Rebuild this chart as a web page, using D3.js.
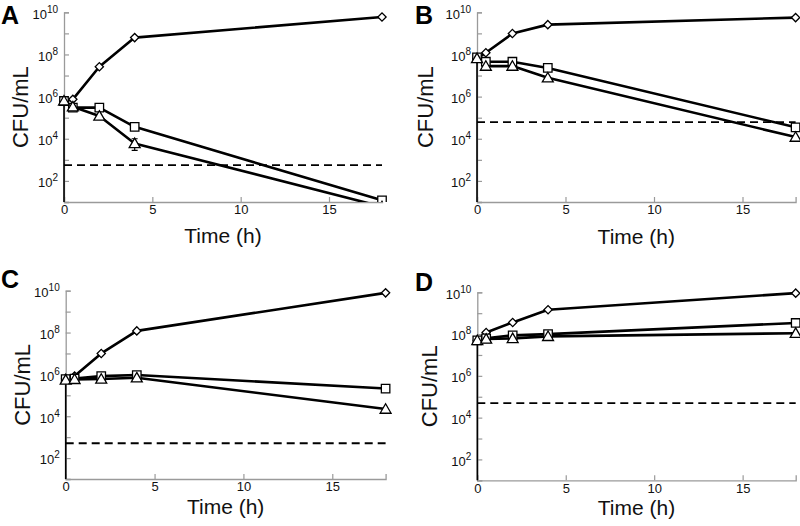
<!DOCTYPE html>
<html><head><meta charset="utf-8">
<script src="https://cdn.jsdelivr.net/npm/d3@7"></script>
<style>body{margin:0;background:#fff}svg{display:block}</style>
</head><body>
<svg id="c" width="800" height="526"></svg>
<script>
// ---- data ----
const times = [0, 0.5, 2, 4, 18];
const panelNames = ["A", "B", "C", "D"];
const xTicks = [0, 5, 10, 15];
const yTickExps = [1,2,3,4,5,6,7,8,9,10];
const yLabelExps = [2,4,6,8,10];

// growth control (diamonds)
const growthA = [6.0e5, 7.4e5, 2.6e7, 6.3e8, 6.0e9];
const growthB = [6.5e7, 1.2e8, 9.8e8, 2.6e9, 5.6e9];
const growthC = [6.5e5, 8.3e5, 1.0e7, 1.2e8, 7.9e9];
const growthD = [5.0e7, 1.2e8, 3.6e8, 1.45e9, 9.1e9];
// squares
const squareA = [6.2e5, 3.0e5, 3.0e5, 3.7e4, 12];
const squareB = [7.2e7, 4.5e7, 4.5e7, 2.3e7, 3.5e4];
const squareC = [6.0e5, 6.3e5, 8.3e5, 9.3e5, 2.1e5];
const squareD = [5.0e7, 6.3e7, 8.7e7, 1.0e8, 3.4e8];
// triangles
const triA = [6.3e5, 3.3e5, 1.2e5, 6.0e3, 6];
const triB = [6.5e7, 2.8e7, 2.8e7, 7.8e6, 1.2e4];
const triC = [5.4e5, 5.8e5, 6.0e5, 6.9e5, 2.2e4];
const triD = [5.0e7, 5.8e7, 6.2e7, 7.8e7, 1.1e8];
// limit of detection (dashed)
const lod = [5.6e2, 6.2e4, 5.1e2, 5.0e4];
// error bars: [panel, series, time index, low, high]
const errorBars = [
  [0, "tri", 0, 4.0e5, 1.0e6],
  [0, "tri", 3, 2.8e3, 1.0e4],
  [1, "square", 0, 5.5e7, 9.5e7],
  [2, "square", 4, 1.5e5, 2.6e5]
];

const growth = [growthA, growthB, growthC, growthD];
const squares = [squareA, squareB, squareC, squareD];
const tris = [triA, triB, triC, triD];

// ---- layout ----
const layout = [
  {x0:64,    x1:382,   yTop:12.3,  yBot:202,   lx:1,   ly:24,  tly:243, cfx:36},
  {x0:477,   x1:795.6, yTop:12.3,  yBot:202,   lx:415, ly:24,  tly:244, cfx:44},
  {x0:65.7,  x1:385.6, yTop:290.7, yBot:479,   lx:1,   ly:288, tly:514, cfx:36},
  {x0:477.3, x1:795.7, yTop:292.3, yBot:480.3, lx:415, ly:291, tly:515, cfx:40}
];

const svg = d3.select("#c");
const AX = "#9a9a9a";
const FONT = "'Liberation Sans', Arial, sans-serif";

panelNames.forEach((name, i) => {
  const L = layout[i];
  const x = d3.scaleLinear().domain([0, 18]).range([L.x0, L.x1]);
  const y = d3.scaleLog().domain([10, 1e10]).range([L.yBot, L.yTop]);
  const g = svg.append("g");

  // clip
  const cid = "clip" + i;
  svg.append("clipPath").attr("id", cid).append("rect")
    .attr("x", L.x0 - 10).attr("y", L.yTop - 12)
    .attr("width", L.x1 - L.x0 + 25).attr("height", L.yBot - L.yTop + 12);

  // y axis
  const yAxis = d3.axisLeft(y).tickValues(yTickExps.map(e => Math.pow(10, e)))
    .tickSize(-5).tickPadding(6).tickFormat(() => "");
  const gy = g.append("g").attr("transform", `translate(${L.x0},0)`).call(yAxis);
  gy.select(".domain").attr("stroke", AX).attr("stroke-width", 1.3);
  gy.selectAll(".tick line").attr("stroke", AX).attr("stroke-width", 1.2);
  gy.selectAll(".tick text").each(function(d) {
    const e = Math.round(Math.log10(d));
    const t = d3.select(this);
    if (!yLabelExps.includes(e)) return;
    t.attr("font-family", FONT).attr("font-size", 13).attr("fill", "#111").attr("dy", "0.45em");
    t.append("tspan").text("10");
    t.append("tspan").attr("font-size", 10).attr("dy", "-0.6em").text(e);
  });

  // x axis
  const xAxis = d3.axisBottom(x).tickValues(xTicks).tickSize(-5).tickPadding(3);
  const gx = g.append("g").attr("transform", `translate(0,${L.yBot})`).call(xAxis);
  gx.select(".domain").attr("stroke", AX).attr("stroke-width", 1.3);
  gx.selectAll(".tick line").attr("stroke", AX).attr("stroke-width", 1.2);
  gx.selectAll(".tick text").attr("font-family", FONT).attr("font-size", 13).attr("fill", "#111");

  // black overlay on lower part of y axis
  g.append("line").attr("x1", L.x0).attr("x2", L.x0)
    .attr("y1", y(tris[i][0])).attr("y2", L.yBot)
    .attr("stroke", "#000").attr("stroke-width", 1.6);

  // axis titles
  g.append("text").attr("x", (L.x0 + L.x1) / 2).attr("y", L.tly)
    .attr("text-anchor", "middle").attr("font-family", FONT).attr("font-size", 21)
    .attr("fill", "#111").text("Time (h)");
  g.append("text")
    .attr("transform", `translate(${L.x0 - L.cfx},${(L.yTop + L.yBot) / 2}) rotate(-90)`)
    .attr("text-anchor", "middle").attr("font-family", FONT).attr("font-size", 22)
    .attr("fill", "#111").text("CFU/mL");
  // panel letter
  g.append("text").attr("x", L.lx).attr("y", L.ly).attr("font-family", FONT)
    .attr("font-weight", "bold").attr("font-size", 25).attr("fill", "#000").text(name);

  // dashed LOD
  g.append("line").attr("x1", x(0)).attr("x2", x(18))
    .attr("y1", y(lod[i])).attr("y2", y(lod[i]))
    .attr("stroke", "#000").attr("stroke-width", 1.8).attr("stroke-dasharray", "8,5");

  const plot = g.append("g").attr("clip-path", `url(#${cid})`);
  const line = d3.line().x((d, k) => x(times[k])).y(d => y(d));
  const seriesList = [
    {vals: growth[i], sym: "diamond"},
    {vals: squares[i], sym: "square"},
    {vals: tris[i], sym: "tri"}
  ];
  seriesList.forEach(s => {
    plot.append("path").datum(s.vals).attr("d", line)
      .attr("fill", "none").attr("stroke", "#000").attr("stroke-width", 2.6)
      .attr("stroke-linejoin", "round");
  });

  // error bars
  errorBars.filter(e => e[0] === i).forEach(e => {
    const cx = x(times[e[2]]);
    plot.append("line").attr("x1", cx).attr("x2", cx).attr("y1", y(e[3])).attr("y2", y(e[4]))
      .attr("stroke", "#000").attr("stroke-width", 1.2);
    [e[3], e[4]].forEach(v => plot.append("line").attr("x1", cx - 3).attr("x2", cx + 3)
      .attr("y1", y(v)).attr("y2", y(v)).attr("stroke", "#000").attr("stroke-width", 1.2));
  });

  const symDiamond = d3.symbol().type(d3.symbolSquare).size(34);
  const symSquare = d3.symbol().type(d3.symbolSquare).size(72);
  const symTri = d3.symbol().type(d3.symbolTriangle).size(52);
  seriesList.forEach(s => {
    const gen = s.sym === "diamond" ? symDiamond : s.sym === "square" ? symSquare : symTri;
    plot.selectAll(null).data(s.vals.map((v, k) => [times[k], v])).enter()
      .append("path").attr("d", gen)
      .attr("transform", d => `translate(${x(d[0])},${y(d[1]) + (s.sym === "tri" ? 1 : 0)})` + (s.sym === "diamond" ? " rotate(45)" : ""))
      .attr("fill", "#fff").attr("stroke", "#000").attr("stroke-width", 1.3);
  });
});
</script>
</body></html>
